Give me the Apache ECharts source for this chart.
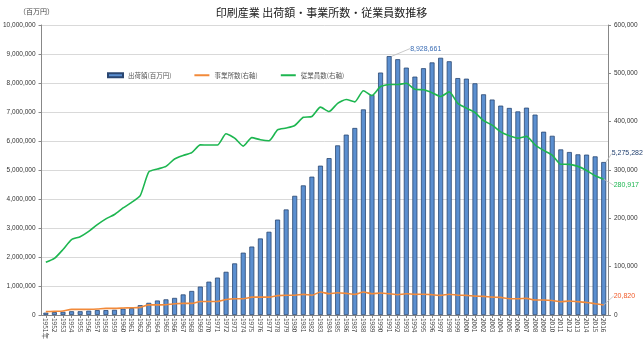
<!DOCTYPE html>
<html><head><meta charset="utf-8">
<script src="https://cdn.jsdelivr.net/npm/echarts@6/dist/echarts.min.js"></script>
<style>html,body{margin:0;padding:0;background:#fff}#c{width:643px;height:345px}</style>
</head><body><div id="c"></div>
<script>
const years = ['1951年','1952','1953','1954','1955','1956','1957','1958','1959','1960','1961','1962','1963','1964','1965','1966','1967','1968','1969','1970','1971','1972','1973','1974','1975','1976','1977','1978','1979','1980','1981','1982','1983','1984','1985','1986','1987','1988','1989','1990','1991','1992','1993','1994','1995','1996','1997','1998','1999','2000','2001','2002','2003','2004','2005','2006','2007','2008','2009','2010','2011','2012','2013','2014','2015','2016'];
// 出荷額 (百万円)
const shipments = [80000,100000,110000,130000,130000,150000,170000,170000,180000,220000,240000,340000,420000,500000,540000,590000,710000,830000,980000,1150000,1290000,1490000,1780000,2150000,2360000,2640000,2870000,3290000,3640000,4110000,4470000,4770000,5150000,5410000,5850000,6220000,6450000,7090000,7590000,8360000,8928661,8820000,8530000,8220000,8510000,8710000,8870000,8750000,8170000,8150000,7990000,7610000,7430000,7220000,7140000,7020000,7150000,6910000,6320000,6180000,5710000,5620000,5540000,5530000,5470000,5275282];
// 事業所数 (右軸)
const establishments = [6900,7600,8300,11700,11700,11800,12400,13800,13800,14400,15000,15800,21000,21000,21300,23400,24000,24000,28000,28000,28000,32000,33700,33700,37000,37000,37000,40000,41000,41000,42700,41000,47500,44000,46000,44700,42700,47500,44000,45400,44000,42000,44000,42700,43000,42000,40600,43000,41000,40600,39000,38500,37000,36500,33700,33700,34400,31000,31000,30000,27500,29000,27500,26000,23400,20820];
// 従業員数 (右軸)
const employees = [109000,117000,135500,156000,162000,173000,187000,199000,208000,221500,233000,247000,296000,302000,307500,322700,330000,336000,352000,351600,351600,375000,366000,349500,367000,362600,360500,383000,386700,392000,409000,410700,430000,421000,438000,446000,441000,464000,454000,472700,476800,476800,479500,467000,466000,460000,452000,461600,438000,428000,419000,402000,393000,379000,371000,366000,369500,352000,340600,331000,312000,311700,307500,299000,288000,280917];
const leftTicks = [0,1000000,2000000,3000000,4000000,5000000,6000000,7000000,8000000,9000000,10000000];
const rightTicks = [0,100000,200000,300000,400000,500000,600000];
const seriesNames = ['出荷額(百万円)','事業所数(右軸)','従業員数(右軸)'];

const fmt = v => v.toLocaleString('en-US');
const lastI = shipments.length - 1;
const peakI = shipments.indexOf(Math.max(...shipments));
const lbl = {fontSize:7, fontFamily:'Liberation Sans, Arial, sans-serif', align:'left'};
const lineIcon = 'path://M0,0H15V2H0Z';

const chart = echarts.init(document.getElementById('c'), null, {renderer:'canvas'});
chart.setOption({
  animation:false,
  backgroundColor:'#fff',
  title:{text:'印刷産業 出荷額・事業所数・従業員数推移', left:'center', top:2,
    textStyle:{fontSize:11, fontWeight:'normal', color:'#222', fontFamily:'Noto Sans CJK JP'}},
  legend:{left:102, top:67, itemWidth:15, itemHeight:4, itemGap:23,
    textStyle:{fontSize:6.5, color:'#555', fontFamily:'Noto Sans CJK JP'},
    data:[{name:seriesNames[0], icon:'rect'},{name:seriesNames[1], icon:lineIcon},{name:seriesNames[2], icon:lineIcon}]},
  grid:{left:41, right:35, top:25, bottom:30, containLabel:false},
  xAxis:{type:'category', data:years, boundaryGap:true,
    axisLine:{lineStyle:{color:'#888'}}, axisTick:{show:true, alignWithLabel:true, length:3, lineStyle:{color:'#888'}},
    axisLabel:{interval:0, rotate:-90, fontSize:6.5, color:'#444', margin:3, fontFamily:'Noto Sans CJK JP'}},
  yAxis:[
    {type:'value', min:0, max:10000000, interval:1000000, name:'（百万円）', nameLocation:'end', nameGap:10,
      nameTextStyle:{fontSize:7, color:'#444', fontFamily:'Noto Sans CJK JP', align:'center', padding:[0,10,0,0]},
      axisLine:{show:true, lineStyle:{color:'#888'}}, axisTick:{show:true, length:3, lineStyle:{color:'#888'}},
      splitLine:{lineStyle:{color:'#d9d9d9', width:1}},
      axisLabel:{fontSize:6.5, color:'#333', margin:6, formatter:v=>fmt(v), fontFamily:'Liberation Sans, Arial, sans-serif'}},
    {type:'value', min:0, max:600000, interval:100000, position:'right',
      axisLine:{show:true, lineStyle:{color:'#888'}}, axisTick:{show:true, length:3, lineStyle:{color:'#888'}},
      splitLine:{show:false},
      axisLabel:{fontSize:6.5, color:'#333', margin:6, formatter:v=>fmt(v), fontFamily:'Liberation Sans, Arial, sans-serif'}}
  ],
  series:[
    {name:seriesNames[0], type:'bar', yAxisIndex:0, barWidth:5,
      itemStyle:{color:'#5B8FD0', borderColor:'#2a4670', borderWidth:0.8},
      data:shipments.map((v,i)=>{
        if(i===peakI) return {value:v, label:{show:true, position:'top', formatter:fmt(v), color:'#3a6db5', ...lbl}};
        if(i===lastI) return {value:v, label:{show:true, position:'top', formatter:fmt(v), color:'#1f3e6e', ...lbl}};
        return v;}),
      labelLayout:p=> p.dataIndex===peakI ? {dx:21, dy:1} : {dx:8, dy:0},
      labelLine:{show:true, lineStyle:{color:'#bbb', width:0.8}}
    },
    {name:seriesNames[1], type:'line', yAxisIndex:1, symbol:'circle', symbolSize:0, showSymbol:true, smooth:0.2,
      lineStyle:{color:'#F28A3A', width:1.6}, itemStyle:{color:'#F28A3A'},
      data:establishments.map((v,i)=> i===lastI ? {value:v, label:{show:true, position:'right', distance:2, formatter:fmt(v), color:'#F05A28', ...lbl}} : v),
      labelLayout:{dx:8, dy:-9}, labelLine:{show:true, lineStyle:{color:'#bbb', width:0.8}}
    },
    {name:seriesNames[2], type:'line', yAxisIndex:1, symbol:'circle', symbolSize:0, showSymbol:true, smooth:0.2,
      lineStyle:{color:'#1DB650', width:1.6}, itemStyle:{color:'#1DB650'},
      data:employees.map((v,i)=> i===lastI ? {value:v, label:{show:true, position:'right', distance:2, formatter:fmt(v), color:'#1DB650', ...lbl}} : v),
      labelLayout:{dx:8, dy:6}, labelLine:{show:true, lineStyle:{color:'#bbb', width:0.8}}
    }
  ]
});
</script></body></html>
